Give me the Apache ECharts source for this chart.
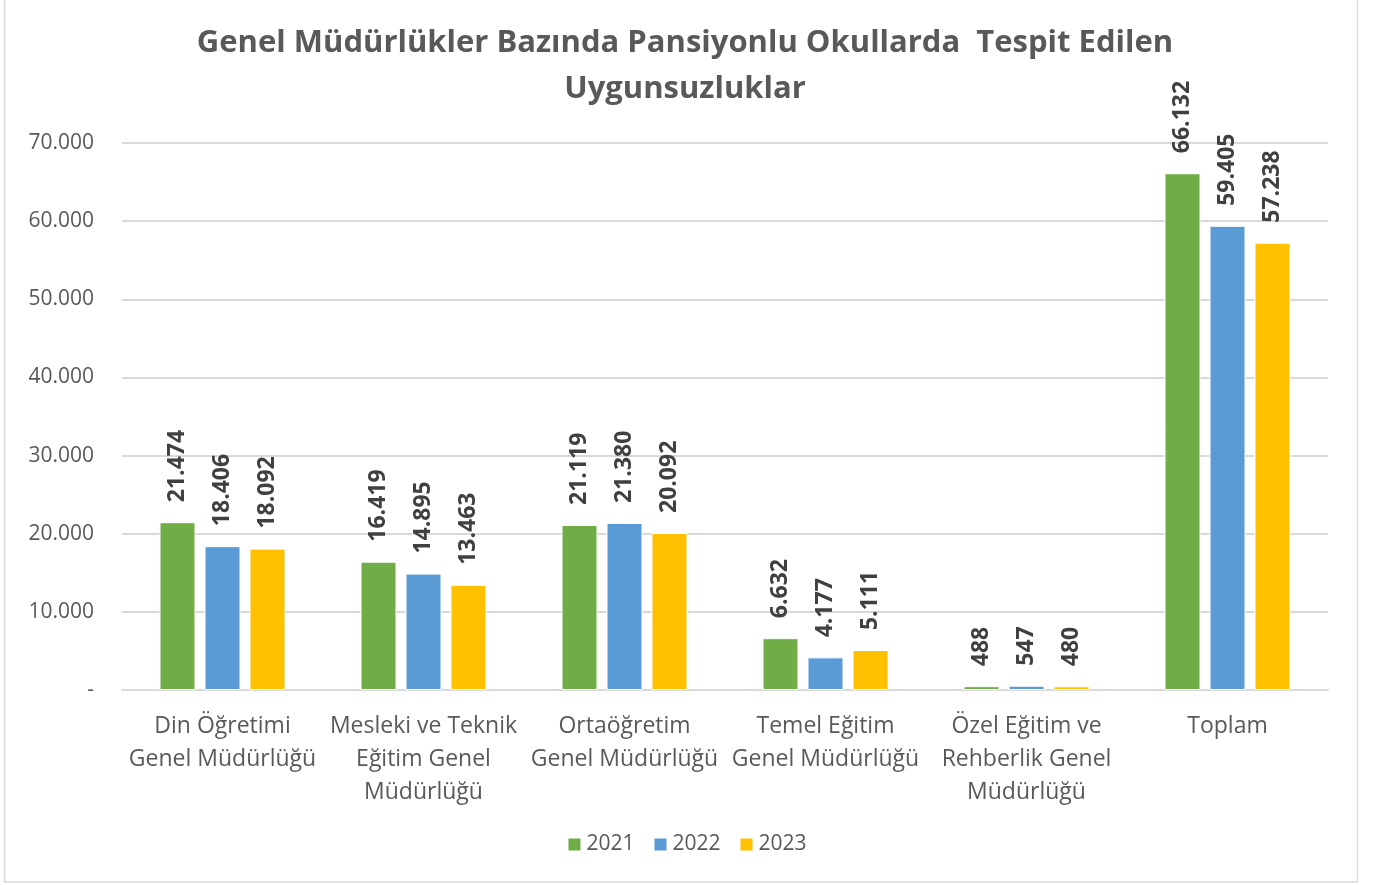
<!DOCTYPE html>
<html>
<head>
<meta charset="utf-8">
<script src="https://cdn.jsdelivr.net/npm/echarts@6/dist/echarts.min.js"></script>
<style>
  html, body { margin: 0; padding: 0; background: #fff; }
  #chart { width: 1373px; height: 885px; }
</style>
</head>
<body>
<div id="chart"></div>
<script>
var categories = [
  'Din Öğretimi\nGenel Müdürlüğü',
  'Mesleki ve Teknik\nEğitim Genel\nMüdürlüğü',
  'Ortaöğretim\nGenel Müdürlüğü',
  'Temel Eğitim\nGenel Müdürlüğü',
  'Özel Eğitim ve\nRehberlik Genel\nMüdürlüğü',
  'Toplam'
];
var years = ['2021', '2022', '2023'];
var values2021 = [21474, 16419, 21119, 6632, 488, 66132];
var values2022 = [18406, 14895, 21380, 4177, 547, 59405];
var values2023 = [18092, 13463, 20092, 5111, 480, 57238];
var colors = ['#70AD47', '#5B9BD5', '#FFC000'];

var font = '"Open Sans", "Noto Sans", sans-serif';

function fmt(v) {
  if (v === 0) return '-';
  return String(v).replace(/\B(?=(\d{3})+(?!\d))/g, '.');
}

function makeSeries(name, data, i) {
  return {
    name: name,
    type: 'bar',
    data: data,
    barWidth: 36,
    barGap: '25%',
    itemStyle: { color: colors[i], borderColor: '#fff', borderWidth: 1 },
    label: {
      show: true,
      position: 'top',
      rotate: 90,
      align: 'left',
      verticalAlign: 'middle',
      distance: 20,
      fontFamily: font,
      fontWeight: 'bold',
      fontSize: 23,
      color: '#404040',
      formatter: function (p) { return fmt(p.value); }
    }
  };
}

var chart = echarts.init(document.getElementById('chart'));
chart.setOption({
  animation: false,
  textStyle: { fontFamily: font },
  title: {
    text: 'Genel Müdürlükler Bazında Pansiyonlu Okullarda  Tespit Edilen\nUygunsuzluklar',
    left: 680,
    top: 15,
    textAlign: 'center',
    textStyle: { fontFamily: font, fontSize: 31, fontWeight: 'bold', color: '#595959', lineHeight: 46 }
  },
  graphic: [{
    type: 'rect',
    shape: { x: 4.5, y: -2, width: 1353, height: 884 },
    style: { fill: 'none', stroke: '#D9D9D9', lineWidth: 1.5 },
    silent: true
  }],
  legend: {
    data: years,
    bottom: 25,
    left: 'center',
    itemWidth: 14,
    itemHeight: 14,
    itemGap: 18,
    icon: 'rect',
    textStyle: { fontSize: 21, color: '#595959', fontFamily: font }
  },
  grid: { left: 122, right: 45, top: 143, bottom: 195 },
  xAxis: {
    type: 'category',
    data: categories,
    axisTick: { show: false },
    axisLine: { lineStyle: { color: '#D9D9D9', width: 2 } },
    axisLabel: { interval: 0, margin: 20, fontSize: 23, lineHeight: 33, color: '#595959', fontFamily: font }
  },
  yAxis: {
    type: 'value',
    min: 0,
    max: 70000,
    interval: 10000,
    axisLine: { show: false },
    axisTick: { show: false },
    splitLine: { lineStyle: { color: '#D9D9D9', width: 2 } },
    axisLabel: { margin: 28, fontSize: 21, color: '#595959', fontFamily: font, formatter: fmt }
  },
  series: [
    makeSeries(years[0], values2021, 0),
    makeSeries(years[1], values2022, 1),
    makeSeries(years[2], values2023, 2)
  ]
});
</script>
</body>
</html>
